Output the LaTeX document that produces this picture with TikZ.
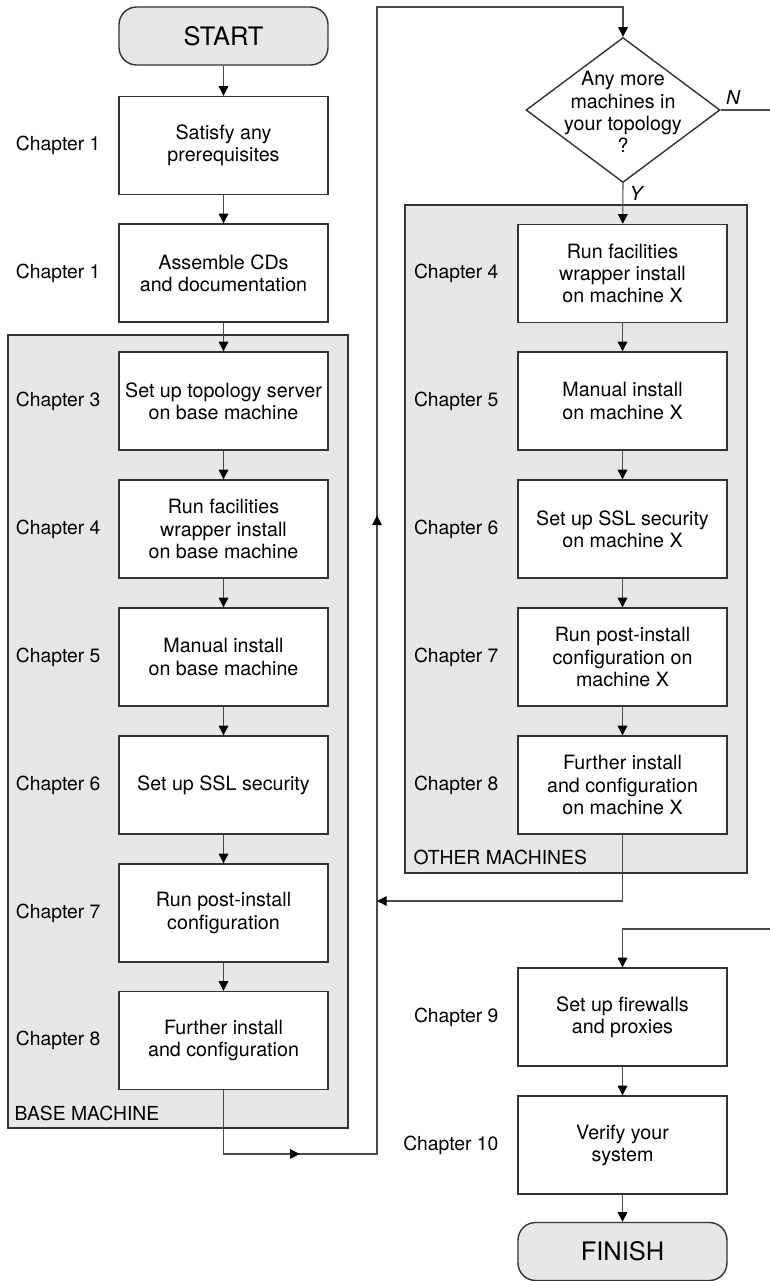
\documentclass[tikz,border=0pt]{standalone}
\usepackage{fontspec}
\setmainfont{TeX Gyre Heros}
\usetikzlibrary{arrows.meta,shapes.geometric,decorations.markings}
\definecolor{panel}{HTML}{E6E7E8}
\definecolor{edge}{HTML}{333333}
\definecolor{wire}{HTML}{4A4A4A}
\tikzset{every node/.style={inner sep=0pt,text=black}}
\tikzset{stepbox/.style={rectangle,draw=edge,fill=white,line width=0.8pt,minimum width=4.18cm,minimum height=1.96cm,align=center,font=\fontsize{11.2}{12.6}\selectfont}}
\tikzset{term/.style={stepbox,rounded corners=10pt,fill=panel,minimum height=1.16cm,font=\fontsize{14.5}{16}\selectfont}}
\tikzset{chap/.style={anchor=east,font=\fontsize{11}{12.6}\selectfont}}
\tikzset{grp/.style={draw=edge,fill=panel,line width=0.8pt}}
\tikzset{grptag/.style={anchor=west,font=\fontsize{11}{12.6}\selectfont}}
\tikzset{yn/.style={font=\fontsize{11}{12.6}\selectfont\itshape}}
\tikzset{midarrows/.style={postaction={decorate},decoration={markings,mark=at position 2.8cm with {\arrow{>}},mark=at position 17.12cm with {\arrow{>}}}}}

\begin{document}
\begin{tikzpicture}[x=0.02cm,y=-0.02cm,>={Triangle[length=5.5pt,width=5.5pt,color=black]},line width=0.6pt,draw=wire]
      \useasboundingbox (0,0) rectangle (770,1281);
      \draw[grp] (8,335) rectangle (348,1128);
      \node[grptag] (basetag) at (14,1113) {BASE MACHINE};
      \draw[grp] (405,205) rectangle (747,873);
      \node[grptag] (othertag) at (413,857) {OTHER MACHINES};

      \node[term] (start) at (223.5,36) {START};
      \node[stepbox] (b1) at (223.5,145.5) {Satisfy any\\prerequisites};
      \node[stepbox] (b2) at (223.5,273) {Assemble CDs\\and documentation};
      \node[stepbox] (b3) at (223.5,401) {Set up topology server\\on base machine};
      \node[stepbox] (b4) at (223.5,529) {Run facilities\\wrapper install\\on base machine};
      \node[stepbox] (b5) at (223.5,657) {Manual install\\on base machine};
      \node[stepbox] (b6) at (223.5,785) {Set up SSL security};
      \node[stepbox] (b7) at (223.5,913) {Run post-install\\configuration};
      \node[stepbox] (b8) at (223.5,1040.5) {Further install\\and configuration};
      \node[chap] (c1) at (101,145.5) {Chapter 1};
      \node[chap] (c2) at (101,273) {Chapter 1};
      \node[chap] (c3) at (101,401) {Chapter 3};
      \node[chap] (c4) at (101,529) {Chapter 4};
      \node[chap] (c5) at (101,657) {Chapter 5};
      \node[chap] (c6) at (101,785) {Chapter 6};
      \node[chap] (c7) at (101,913) {Chapter 7};
      \node[chap] (c8) at (101,1040.5) {Chapter 8};

      \node[diamond,draw=edge,line width=0.8pt,fill=white,minimum width=3.88cm,minimum height=2.9cm] (q) at (623,110) {};
      \node[align=center,font=\fontsize{11.2}{12.6}\selectfont] (qtext) at (623,112) {Any more\\machines in\\your topology\\?};
      \node[stepbox] (o1) at (622.5,273.5) {Run facilities\\wrapper install\\on machine X};
      \node[stepbox] (o2) at (622.5,401) {Manual install\\on machine X};
      \node[stepbox] (o3) at (622.5,529) {Set up SSL security\\on machine X};
      \node[stepbox] (o4) at (622.5,657) {Run post-install\\configuration on\\machine X};
      \node[stepbox] (o5) at (622.5,785) {Further install\\and configuration\\on machine X};
      \node[stepbox] (f1) at (622.5,1017) {Set up firewalls\\and proxies};
      \node[stepbox] (f2) at (622.5,1145) {Verify your\\system};
      \node[term] (finish) at (622.5,1251.5) {FINISH};
      \node[chap] (d4) at (499,273.5) {Chapter 4};
      \node[chap] (d5) at (499,401) {Chapter 5};
      \node[chap] (d6) at (499,529) {Chapter 6};
      \node[chap] (d7) at (499,657) {Chapter 7};
      \node[chap] (d8) at (499,785) {Chapter 8};
      \node[chap] (d9) at (499,1017) {Chapter 9};
      \node[chap] (d10) at (499,1145) {Chapter 10};
      \node[yn] (nlab) at (733,97) {N};
      \node[yn] (ylab) at (636,193) {Y};

      \coordinate (loopa) at (377,1154);
      \coordinate (loopb) at (377,7);
      \coordinate (join) at (377,901);
      \coordinate (nend) at (770,110);
      \coordinate (fwin) at (770,929);

        \draw[->] (start) -- (b1);
        \draw[->] (b1) -- (b2);
        \draw[->] (b2) -- (b3);
        \draw[->] (b3) -- (b4);
        \draw[->] (b4) -- (b5);
        \draw[->] (b5) -- (b6);
        \draw[->] (b6) -- (b7);
        \draw[->] (b7) -- (b8);
        \draw[->,midarrows] (b8.south) |- (loopa) -- (loopb) -| (q.north);
        \draw (q.east) -- (nend);
        \draw[->] (q.south) -- (o1);
        \draw[->] (o1) -- (o2);
        \draw[->] (o2) -- (o3);
        \draw[->] (o3) -- (o4);
        \draw[->] (o4) -- (o5);
        \draw[->] (o5.south) |- (join);
        \draw[->] (fwin) -| (f1.north);
        \draw[->] (f1) -- (f2);
        \draw[->] (f2) -- (finish);
    \end{tikzpicture}
\end{document}
